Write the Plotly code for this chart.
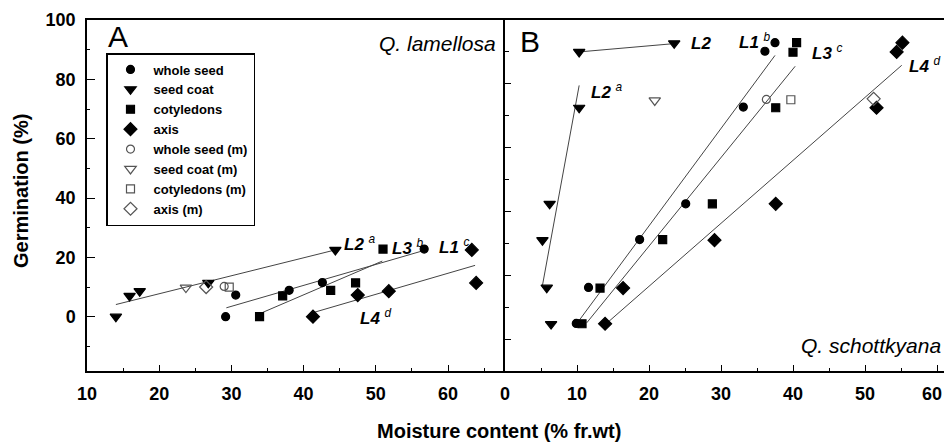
import plotly.graph_objects as go

# ---------------- data: panel A (Q. lamellosa) ----------------
a_whole_x = [29.2, 30.6, 38.0, 42.6, 56.7]
a_whole_y = [0.0, 7.3, 8.9, 11.5, 22.8]
a_coat_x = [14.0, 15.9, 17.3, 26.8, 44.4]
a_coat_y = [0.0, 7.0, 8.6, 11.4, 22.5]
a_coty_x = [33.9, 37.1, 43.75, 47.2, 51.0]
a_coty_y = [0.0, 7.0, 8.9, 11.4, 22.8]
a_axis_x = [41.3, 47.5, 51.8, 63.3, 63.9]
a_axis_y = [0.0, 7.3, 8.6, 22.5, 11.4]
a_whole_m = ([29.0], [10.2])
a_coat_m = ([23.7], [9.8])
a_coty_m = ([29.7], [10.0])
a_axis_m = ([26.5], [10.0])
# fitted lines A: (x0, x1), (y0, y1)
a_lines = {
    "L2": ([14.0, 44.7], [4.1, 22.7]),
    "L1": ([29.3, 56.5], [3.0, 22.2]),
    "L3": ([34.0, 50.9], [1.1, 18.75]),
    "L4": ([41.35, 63.75], [1.4, 17.3]),
}

# ---------------- data: panel B (Q. schottkyana) ----------------
b_whole_x = [9.9, 11.6, 18.7, 25.1, 33.1, 36.1, 37.5]
b_whole_y = [4.9, 16.2, 31.2, 42.4, 72.7, 90.2, 92.9]
b_coat_x = [6.4, 5.8, 5.2, 6.2, 10.3, 10.3, 23.5]
b_coat_y = [4.7, 16.1, 31.0, 42.4, 72.5, 90.0, 92.7]
b_coty_x = [10.7, 13.2, 21.9, 28.8, 37.6, 40.0, 40.5]
b_coty_y = [4.8, 16.0, 31.2, 42.4, 72.5, 89.9, 92.9]
b_axis_x = [13.9, 16.4, 29.1, 37.6, 51.6, 54.4, 55.2]
b_axis_y = [4.8, 16.0, 31.0, 42.4, 72.5, 90.0, 92.9]
b_whole_m = ([36.3], [75.1])
b_coat_m = ([20.8], [74.8])
b_coty_m = ([39.7], [75.0])
b_axis_m = ([51.2], [75.3])
b_lines = {
    "L2top": ([10.3, 23.5], [90.0, 92.6]),
    "L2a": ([10.3, 5.2], [79.5, 16.8]),
    "L1": ([10.05, 37.5], [5.1, 88.9]),
    "L3": ([11.35, 40.3], [5.1, 85.5]),
    "L4": ([14.2, 55.1], [5.1, 85.8]),
}

# line labels: (text, superscript, x, y)
a_labels = [("L2", "a", 45.3, 24.8), ("L3", "b", 52.0, 23.5),
            ("L1", "c", 58.5, 23.8), ("L4", "d", 47.5, -0.2)]
b_labels = [("L2", "", 25.6, 92.6), ("L2", "a", 11.7, 77.9),
            ("L1", "b", 32.2, 93.3), ("L3", "c", 42.4, 90.1),
            ("L4", "d", 55.9, 86.0)]

series_names = ["whole seed", "seed coat", "cotyledons", "axis",
                "whole seed (m)", "seed coat (m)", "cotyledons (m)", "axis (m)"]
x_ticks_a = [10, 20, 30, 40, 50, 60]
x_ticks_b = [0, 10, 20, 30, 40, 50, 60]
x_ticktext_b = ["0", "10", "20", "30", "40", "50", "60\u00a0\u00a0"]
y_ticks_a = [0, 20, 40, 60, 80, 100]

FONT = "Liberation Sans, Arial, sans-serif"
styles = {
    "whole seed": dict(symbol="circle", size=8, color="black"),
    "seed coat": dict(symbol="triangle-down", size=10, color="black"),
    "cotyledons": dict(symbol="square", size=8, color="black"),
    "axis": dict(symbol="diamond", size=10, color="black"),
    "whole seed (m)": dict(symbol="circle-open", size=8, color="#555"),
    "seed coat (m)": dict(symbol="triangle-down-open", size=10, color="#555"),
    "cotyledons (m)": dict(symbol="square-open", size=8, color="#555"),
    "axis (m)": dict(symbol="diamond-open", size=10, color="#555"),
}

fig = go.Figure()

for xs, ys in a_lines.values():
    fig.add_trace(go.Scatter(x=xs, y=ys, mode="lines", xaxis="x", yaxis="y",
                             line=dict(color="#444", width=1), showlegend=False,
                             hoverinfo="skip"))
for xs, ys in b_lines.values():
    fig.add_trace(go.Scatter(x=xs, y=ys, mode="lines", xaxis="x2", yaxis="y2",
                             line=dict(color="#444", width=1), showlegend=False,
                             hoverinfo="skip"))

a_data = [(a_whole_x, a_whole_y), (a_coat_x, a_coat_y), (a_coty_x, a_coty_y),
          (a_axis_x, a_axis_y), a_whole_m, a_coat_m, a_coty_m, a_axis_m]
b_data = [(b_whole_x, b_whole_y), (b_coat_x, b_coat_y), (b_coty_x, b_coty_y),
          (b_axis_x, b_axis_y), b_whole_m, b_coat_m, b_coty_m, b_axis_m]

for name, (xs, ys) in zip(series_names, a_data):
    st = styles[name]
    fig.add_trace(go.Scatter(
        x=xs, y=ys, mode="markers", name=name,
        xaxis="x", yaxis="y",
        marker=dict(symbol=st["symbol"], size=st["size"], color=st["color"],
                    line=dict(color=st["color"], width=1.2))))
for name, (xs, ys) in zip(series_names, b_data):
    st = styles[name]
    fig.add_trace(go.Scatter(
        x=xs, y=ys, mode="markers", name=name,
        showlegend=False, xaxis="x2", yaxis="y2",
        marker=dict(symbol=st["symbol"], size=st["size"], color=st["color"],
                    line=dict(color=st["color"], width=1.2))))

# the page has an 8px body margin: the figure is drawn 8px right/down of the
# page origin
OFF = 8
W, H = 952 - OFF, 443 - OFF
L, T, R_EDGE, B_EDGE = 87 - OFF, 20 - OFF, 952 - OFF, 371 - OFF
PW, PH = R_EDGE - L, B_EDGE - T

def px(xp):  # page pixel -> paper x
    return (xp - OFF - L) / PW
def py(yp):  # page pixel -> paper y
    return (B_EDGE - (yp - OFF)) / PH

split = px(505)
tickfont = dict(family=FONT, size=18, color="black", weight="bold")

common_x = dict(showline=True, linecolor="black", linewidth=1.5, mirror=True,
                ticks="inside", ticklen=6, tickwidth=1.2, tickcolor="black",
                showgrid=False, zeroline=False, tickfont=tickfont,
                ticklabelstandoff=6, ticklabeloverflow="allow",
                minor=dict(ticks="inside", ticklen=3, dtick=5, tickcolor="black",
                           tickwidth=1.2, showgrid=False))

annotations = []
def lab(t, s, x, y, xr, yr):
    txt = "<b><i>%s</i></b>" % t
    if s:
        txt += " <sup><i>%s</i></sup>" % s
    annotations.append(dict(text=txt, x=x, y=y, xref=xr, yref=yr,
                            xanchor="left", yanchor="middle", showarrow=False,
                            font=dict(family=FONT, size=17, color="black")))
for t, s, x, y in a_labels:
    lab(t, s, x, y, "x", "y")
for t, s, x, y in b_labels:
    lab(t, s, x, y, "x2", "y2")

annotations += [
    dict(text="A", x=px(106), y=py(36), xref="paper", yref="paper",
         xanchor="left", yanchor="middle", showarrow=False,
         font=dict(family=FONT, size=30, color="black")),
    dict(text="B", x=px(518), y=py(41), xref="paper", yref="paper",
         xanchor="left", yanchor="middle", showarrow=False,
         font=dict(family=FONT, size=30, color="black")),
    dict(text="<i>Q. lamellosa</i>", x=px(498), y=py(44), xref="paper", yref="paper",
         xanchor="right", yanchor="middle", showarrow=False,
         font=dict(family=FONT, size=21, color="black")),
    dict(text="<i>Q. schottkyana</i>", x=px(943), y=py(345), xref="paper", yref="paper",
         xanchor="right", yanchor="middle", showarrow=False,
         font=dict(family=FONT, size=21, color="black")),
    dict(text="<b>Germination (%)</b>", x=px(21), y=py(191), xref="paper", yref="paper",
         xanchor="center", yanchor="middle", textangle=-90, showarrow=False,
         font=dict(family=FONT, size=20, color="black")),
    dict(text="<b>Moisture content (% fr.wt)</b>", x=px(499), y=py(431),
         xref="paper", yref="paper", xanchor="center", yanchor="middle",
         showarrow=False, font=dict(family=FONT, size=20, color="black")),
]

fig.update_layout(
    width=W, height=H,
    margin=dict(l=L, r=W - R_EDGE, t=T, b=H - B_EDGE, autoexpand=False),
    paper_bgcolor="white", plot_bgcolor="white",
    font=dict(family=FONT, color="black"),
    xaxis=dict(domain=[0, split], range=[10, 10 + (505 - 87) / 7.22],
               tickvals=x_ticks_a, **common_x),
    xaxis2=dict(domain=[split, 1], range=[0, (952 - 505) / 7.2], anchor="y2",
                tickvals=x_ticks_b, ticktext=x_ticktext_b, **common_x),
    yaxis=dict(domain=[0, 1], range=[-18.3, 100], anchor="x",
               showline=True, linecolor="black", linewidth=1.5,
               ticks="inside", ticklen=8, tickwidth=1.2, tickcolor="black",
               tickvals=y_ticks_a, showgrid=False, zeroline=False,
               tickfont=tickfont, ticklabelstandoff=6,
               minor=dict(ticks="inside", ticklen=3, dtick=10, tickcolor="black",
                          tickwidth=1.2, showgrid=False)),
    yaxis2=dict(domain=[0, 1], range=[-10, 100], anchor="x2",
                showline=True, linecolor="black", linewidth=1.5,
                ticks="inside", ticklen=6, tickwidth=1.2, tickcolor="black",
                dtick=20, tick0=0, showticklabels=False,
                showgrid=False, zeroline=False,
                minor=dict(ticks="inside", ticklen=4, dtick=10, tickcolor="black",
                           tickwidth=1.2, showgrid=False)),
    legend=dict(x=px(106), y=py(53), xanchor="left", yanchor="top",
                bgcolor="white", bordercolor="black", borderwidth=1.5,
                font=dict(family=FONT, size=13, color="black", weight="bold"),
                tracegroupgap=0, itemwidth=36),
    annotations=annotations,
    showlegend=True,
)

fig.write_html("out.html")
